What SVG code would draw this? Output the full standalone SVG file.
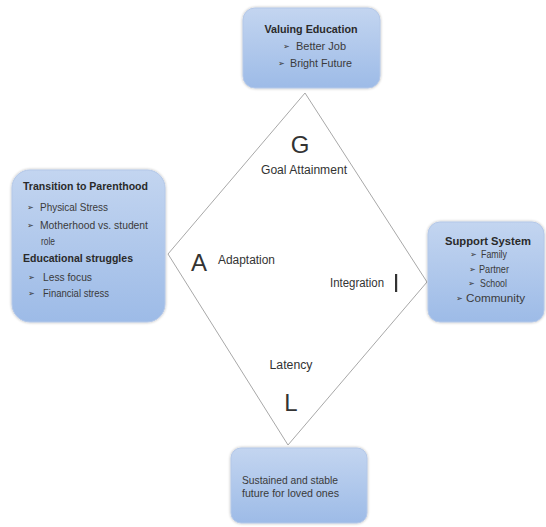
<svg xmlns="http://www.w3.org/2000/svg" width="546" height="527" viewBox="0 0 546 527">
  <defs>
    <linearGradient id="boxFill" x1="0" y1="0" x2="0" y2="1">
      <stop offset="0" stop-color="#c3d5f0"/>
      <stop offset="1" stop-color="#9dbbe7"/>
    </linearGradient>
    <filter id="glow" x="-10%" y="-10%" width="120%" height="120%">
      <feGaussianBlur in="SourceAlpha" stdDeviation="1.5"/>
      <feComponentTransfer><feFuncA type="linear" slope="0.3"/></feComponentTransfer>
      <feMerge><feMergeNode/><feMergeNode in="SourceGraphic"/></feMerge>
    </filter>
  </defs>
  <style>
    .box { fill: url(#boxFill); stroke: #b4c8e8; stroke-width: 1; filter: url(#glow); }
    .t { font-family: "Liberation Sans", Arial, sans-serif; font-size: 11px; fill: #3a3a3a; }
    .b { font-weight: bold; fill: #2a2a2a; }
    .bul { font-family: "DejaVu Sans", sans-serif; font-size: 8px; fill: #333; }
    .lbl { font-family: "Liberation Sans", Arial, sans-serif; font-size: 12px; fill: #333; }
    .big { font-family: "Liberation Sans", Arial, sans-serif; font-size: 24px; fill: #333; }
    .diamond { fill: #ffffff; stroke: #a8a8a8; stroke-width: 1; }
  </style>
  <rect width="546" height="527" fill="#ffffff"/>

  <g id="agil-diamond">
    <polygon class="diamond" points="305,93 427,282 288,445 168,254"/>
    <text class="big" x="300" y="153" text-anchor="middle">G</text>
    <text class="lbl" x="304" y="174" text-anchor="middle" textLength="86" lengthAdjust="spacingAndGlyphs">Goal Attainment</text>
    <text class="big" x="199" y="271" text-anchor="middle" font-size="23">A</text>
    <text class="lbl" x="218" y="264" textLength="57" lengthAdjust="spacingAndGlyphs">Adaptation</text>
    <text class="lbl" x="330" y="287" textLength="54" lengthAdjust="spacingAndGlyphs">Integration</text>
    <rect x="395" y="274" width="2.2" height="18" fill="#333"/>
    <text class="lbl" x="291" y="369" text-anchor="middle" textLength="43" lengthAdjust="spacingAndGlyphs">Latency</text>
    <text class="big" x="291" y="411" text-anchor="middle">L</text>
  </g>

  <g id="connectors"></g>

  <g id="valuing-education">
    <rect class="box" x="243" y="8" width="137" height="80" rx="12"/>
    <text class="t b" x="311" y="33" text-anchor="middle" textLength="93" lengthAdjust="spacingAndGlyphs">Valuing Education</text>
    <text class="bul" x="283" y="49">➢</text>
    <text class="t" x="296" y="50" textLength="50" lengthAdjust="spacingAndGlyphs">Better Job</text>
    <text class="bul" x="278" y="66">➢</text>
    <text class="t" x="290" y="67" textLength="62" lengthAdjust="spacingAndGlyphs">Bright Future</text>
  </g>

  <g id="transition-parenthood">
    <rect class="box" x="12" y="170" width="153" height="152" rx="18"/>
    <text class="t b" x="23" y="190" textLength="125" lengthAdjust="spacingAndGlyphs">Transition to Parenthood</text>
    <text class="bul" x="27" y="210">➢</text>
    <text class="t" x="40" y="211" textLength="68" lengthAdjust="spacingAndGlyphs">Physical Stress</text>
    <text class="bul" x="27" y="228">➢</text>
    <text class="t" x="40" y="229" textLength="108" lengthAdjust="spacingAndGlyphs">Motherhood vs. student</text>
    <text class="t" x="41" y="245" textLength="14" lengthAdjust="spacingAndGlyphs">role</text>
    <text class="t b" x="23" y="262" textLength="110" lengthAdjust="spacingAndGlyphs">Educational struggles</text>
    <text class="bul" x="28" y="280">➢</text>
    <text class="t" x="43" y="281" textLength="49" lengthAdjust="spacingAndGlyphs">Less focus</text>
    <text class="bul" x="28" y="296">➢</text>
    <text class="t" x="43" y="297" textLength="66" lengthAdjust="spacingAndGlyphs">Financial stress</text>
  </g>

  <g id="support-system">
    <rect class="box" x="428" y="222" width="116" height="100" rx="12"/>
    <text class="t b" x="488" y="245" text-anchor="middle" textLength="86" lengthAdjust="spacingAndGlyphs">Support System</text>
    <text class="bul" x="470" y="257">➢</text>
    <text class="t" x="481" y="258" textLength="26" lengthAdjust="spacingAndGlyphs">Family</text>
    <text class="bul" x="469" y="272">➢</text>
    <text class="t" x="479" y="273" textLength="30" lengthAdjust="spacingAndGlyphs">Partner</text>
    <text class="bul" x="468" y="286">➢</text>
    <text class="t" x="480" y="287" textLength="27" lengthAdjust="spacingAndGlyphs">School</text>
    <text class="bul" x="456" y="301">➢</text>
    <text class="t" x="466" y="302" textLength="59" lengthAdjust="spacingAndGlyphs">Community</text>
  </g>

  <g id="sustained-future">
    <rect class="box" x="231" y="448" width="136" height="75" rx="10"/>
    <text class="t" x="242" y="484" textLength="96" lengthAdjust="spacingAndGlyphs">Sustained and stable</text>
    <text class="t" x="242" y="497" textLength="97" lengthAdjust="spacingAndGlyphs">future for loved ones</text>
  </g>
</svg>
